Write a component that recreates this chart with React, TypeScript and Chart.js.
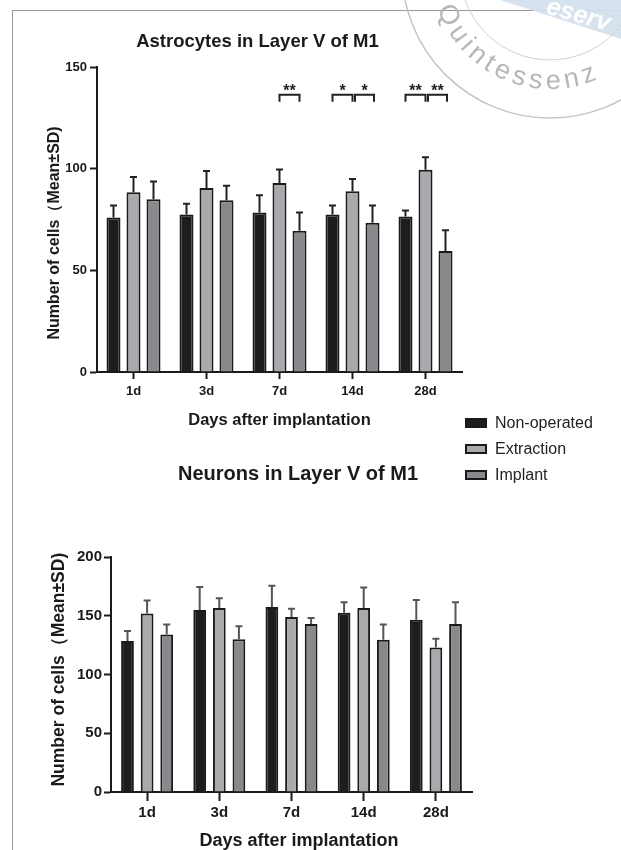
import React, { useEffect, useRef } from 'react';
import { Chart, registerables } from 'chart.js';

Chart.register(...registerables);

const FONT = "'Liberation Sans', Arial, Helvetica, sans-serif";

// ---------- data ----------
const DAYS = ['1d', '3d', '7d', '14d', '28d'];
const GROUP_LABELS = ['Non-operated', 'Extraction', 'Implant'];
const GROUP_COLORS = ['#1d1d1d', '#a9aaae', '#88898d'];

const ASTRO_NON_OPERATED = [76, 77.5, 78.5, 77.5, 76.5];
const ASTRO_NON_OPERATED_SD = [6, 5.3, 8.5, 4.4, 3];
const ASTRO_EXTRACTION = [88.5, 90.5, 93, 89, 99.5];
const ASTRO_EXTRACTION_SD = [7.5, 8.4, 6.7, 6, 6.2];
const ASTRO_IMPLANT = [85, 84.5, 69.5, 73.5, 59.5];
const ASTRO_IMPLANT_SD = [8.8, 7.2, 9, 8.4, 10.3];

const NEURON_NON_OPERATED = [128.5, 155, 157.5, 152.5, 146.5];
const NEURON_NON_OPERATED_SD = [8.5, 19.5, 18, 9, 17];
const NEURON_EXTRACTION = [152, 156.5, 149, 156.5, 123];
const NEURON_EXTRACTION_SD = [11, 8.5, 7, 17.5, 7.5];
const NEURON_IMPLANT = [134, 130, 143, 129.5, 143];
const NEURON_IMPLANT_SD = [8.5, 11, 5, 13, 18.5];

const ASTRO_Y_TICKS = [0, 50, 100, 150];
const NEURON_Y_TICKS = [0, 50, 100, 150, 200];

// significance brackets (astrocytes chart)
const SIG_DAYS = ['7d', '14d', '14d', '28d', '28d'];
const SIG_FROM = [1, 0, 1, 0, 1];
const SIG_TO = [2, 1, 2, 1, 2];
const SIG_LABELS = ['**', '*', '*', '**', '**'];
const SIG_LEVEL = 136.5;

const ASTRO_TITLE = 'Astrocytes in Layer V of M1';
const NEURON_TITLE = 'Neurons in Layer V of M1';
const Y_TITLE = 'Number of cells\uFF08Mean\u00B1SD)';
const X_TITLE = 'Days after implantation';

const AXIS_COLOR = '#1a1a1a';

function errorBarPlugin(sds: number[][], color: string, cap: number) {
  return {
    id: 'errorBars',
    afterDatasetsDraw(chart: any) {
      const { ctx } = chart;
      const y = chart.scales.y;
      ctx.save();
      ctx.strokeStyle = color;
      ctx.lineWidth = 2;
      chart.data.datasets.forEach((ds: any, i: number) => {
        const meta = chart.getDatasetMeta(i);
        meta.data.forEach((bar: any, j: number) => {
          const top = y.getPixelForValue(ds.data[j] + sds[i][j]);
          const x = bar.x;
          ctx.beginPath();
          ctx.moveTo(x, bar.y);
          ctx.lineTo(x, top);
          ctx.moveTo(x - cap / 2, top);
          ctx.lineTo(x + cap / 2, top);
          ctx.stroke();
        });
      });
      ctx.restore();
    },
  };
}

function significancePlugin() {
  return {
    id: 'significance',
    afterDatasetsDraw(chart: any) {
      const { ctx } = chart;
      const y = chart.scales.y;
      const yLine = y.getPixelForValue(SIG_LEVEL);
      ctx.save();
      ctx.strokeStyle = '#222';
      ctx.fillStyle = '#222';
      ctx.lineWidth = 2;
      ctx.font = `bold 16px ${FONT}`;
      ctx.textAlign = 'center';
      ctx.textBaseline = 'alphabetic';
      SIG_DAYS.forEach((day, k) => {
        const j = DAYS.indexOf(day);
        const xa = chart.getDatasetMeta(SIG_FROM[k]).data[j].x;
        const xb = chart.getDatasetMeta(SIG_TO[k]).data[j].x;
        const shared = SIG_DAYS.some((d, m) => m !== k && d === day && SIG_TO[m] === SIG_FROM[k]);
        const left = xa + (shared ? 2.5 : 0);
        const right = xb + (shared ? 1.5 : 0);
        ctx.beginPath();
        ctx.moveTo(left, yLine + 7);
        ctx.lineTo(left, yLine);
        ctx.lineTo(right, yLine);
        ctx.lineTo(right, yLine + 7);
        ctx.stroke();
        ctx.fillText(SIG_LABELS[k], (left + right) / 2, yLine + 1);
      });
      ctx.restore();
    },
  };
}

interface PanelOpts {
  title: string;
  titleSize: number;
  titlePad: { top: number; bottom: number };
  series: number[][];
  sds: number[][];
  yTicks: number[];
  yMax: number;
  yAxisWidth: number;
  xAxisHeight: number;
  rightSpace: number;
  tickSize: number;
  xTickLen: number;
  xTickPad: number;
  yTickPad: number;
  axisTitleSize: number;
  yTitle: string;
  yTitlePad: number;
  xTitle: string;
  xTitlePadBottom: number;
  catPct: number;
  barPct: number;
  errColor: string;
  extraPlugins: any[];
}

function makeChart(canvas: HTMLCanvasElement, o: PanelOpts) {
  return new Chart(canvas, {
    type: 'bar',
    data: {
      labels: DAYS,
      datasets: GROUP_LABELS.map((label, i) => ({
        label,
        data: o.series[i],
        backgroundColor: GROUP_COLORS[i],
        borderColor: AXIS_COLOR,
        borderWidth: 2,
        borderSkipped: 'start' as const,
        categoryPercentage: o.catPct,
        barPercentage: o.barPct,
        yAxisID: 'y',
      })),
    },
    options: {
      responsive: false,
      animation: false,
      events: [],
      layout: { padding: 0 },
      plugins: {
        legend: { display: false },
        tooltip: { enabled: false },
        title: {
          display: true,
          text: o.title,
          color: AXIS_COLOR,
          font: { family: FONT, size: o.titleSize, weight: 'bold' },
          padding: o.titlePad,
        },
      },
      scales: {
        x: {
          offset: true,
          grid: {
            display: true,
            offset: false,
            drawOnChartArea: false,
            drawTicks: true,
            tickLength: o.xTickLen,
            tickWidth: 2,
            tickColor: AXIS_COLOR,
          },
          border: { display: true, color: AXIS_COLOR, width: 2 },
          ticks: {
            color: AXIS_COLOR,
            padding: o.xTickPad,
            maxRotation: 0,
            font: { family: FONT, size: o.tickSize, weight: 'bold' },
          },
          title: {
            display: true,
            text: o.xTitle,
            color: AXIS_COLOR,
            font: { family: FONT, size: o.axisTitleSize + 0.5, weight: 'bold' },
            padding: { top: 0, bottom: o.xTitlePadBottom },
          },
          afterFit: (s: any) => {
            s.height = o.xAxisHeight;
          },
        },
        y: {
          position: 'left',
          min: 0,
          max: o.yMax,
          grid: {
            display: true,
            drawOnChartArea: false,
            drawTicks: true,
            tickLength: 7,
            tickWidth: 2,
            tickColor: AXIS_COLOR,
          },
          border: { display: true, color: AXIS_COLOR, width: 2 },
          ticks: {
            color: AXIS_COLOR,
            padding: o.yTickPad,
            font: { family: FONT, size: o.tickSize, weight: 'bold' },
          },
          afterBuildTicks: (s: any) => {
            s.ticks = o.yTicks.map((v) => ({ value: v }));
          },
          title: {
            display: true,
            text: o.yTitle,
            color: AXIS_COLOR,
            font: { family: FONT, size: o.axisTitleSize, weight: 'bold' },
            padding: { top: o.yTitlePad, bottom: 0 },
          },
          afterFit: (s: any) => {
            s.width = o.yAxisWidth;
          },
        },
        // empty right-hand spacer so the plot ends where the reference's does
        spacer: {
          type: 'linear',
          position: 'right',
          display: true,
          grid: { display: false, drawTicks: false },
          border: { display: false },
          ticks: { display: false },
          afterFit: (s: any) => {
            s.width = o.rightSpace;
          },
        },
      },
    },
    plugins: [errorBarPlugin(o.sds, o.errColor, 7), ...o.extraPlugins],
  } as any);
}

function Watermark() {
  const cx = 550;
  const cy = -30;
  const r = 119;
  const a0 = (161 * Math.PI) / 180;
  const a1 = (10 * Math.PI) / 180;
  const d = `M ${cx + r * Math.cos(a0)} ${cy + r * Math.sin(a0)} A ${r} ${r} 0 0 0 ${cx + r * Math.cos(a1)} ${cy + r * Math.sin(a1)}`;
  return (
    <svg
      width={621}
      height={160}
      style={{ position: 'absolute', left: 0, top: 0, pointerEvents: 'none' }}
    >
      <polygon points="500,0 621,0 621,39" fill="#d3e1ee" opacity={0.92} />
      <text
        transform="translate(545,13) rotate(16)"
        fill="#ffffff"
        fontSize={25}
        fontWeight="bold"
        fontStyle="italic"
        fontFamily={FONT}
      >
        eserv
      </text>
      <circle cx={cx} cy={cy} r={148} fill="none" stroke="#c4c4c4" strokeWidth={1.5} />
      <circle cx={cx} cy={cy} r={90} fill="none" stroke="#d0d0d0" strokeWidth={1} />
      <path id="wmArc" d={d} fill="none" />
      <text fill="#b7b7b7" fontSize={27} fontFamily={FONT}>
        <textPath href="#wmArc" textLength={196} lengthAdjust="spacing">
          Quintessenz
        </textPath>
      </text>
    </svg>
  );
}

export default function App() {
  const topRef = useRef<HTMLCanvasElement>(null);
  const botRef = useRef<HTMLCanvasElement>(null);

  useEffect(() => {
    const charts: Chart[] = [];
    if (topRef.current) {
      charts.push(
        makeChart(topRef.current, {
          title: ASTRO_TITLE,
          titleSize: 18.5,
          titlePad: { top: 31, bottom: 14 },
          series: [ASTRO_NON_OPERATED, ASTRO_EXTRACTION, ASTRO_IMPLANT],
          sds: [ASTRO_NON_OPERATED_SD, ASTRO_EXTRACTION_SD, ASTRO_IMPLANT_SD],
          yTicks: ASTRO_Y_TICKS,
          yMax: 150,
          yAxisWidth: 97,
          xAxisHeight: 68,
          rightSpace: 53,
          tickSize: 13,
          xTickLen: 7,
          xTickPad: 5,
          yTickPad: 3,
          axisTitleSize: 16,
          yTitle: Y_TITLE + '      ',
          yTitlePad: 45,
          xTitle: X_TITLE,
          xTitlePadBottom: 10,
          catPct: 0.822,
          barPct: 0.7,
          errColor: '#222',
          extraPlugins: [significancePlugin()],
        })
      );
    }
    if (botRef.current) {
      charts.push(
        makeChart(botRef.current, {
          title: NEURON_TITLE,
          titleSize: 20,
          titlePad: { top: 22, bottom: 71 },
          series: [NEURON_NON_OPERATED, NEURON_EXTRACTION, NEURON_IMPLANT],
          sds: [NEURON_NON_OPERATED_SD, NEURON_EXTRACTION_SD, NEURON_IMPLANT_SD],
          yTicks: NEURON_Y_TICKS,
          yMax: 200,
          yAxisWidth: 111,
          xAxisHeight: 58,
          rightSpace: 124,
          tickSize: 15,
          xTickLen: 9,
          xTickPad: 3,
          yTickPad: 2,
          axisTitleSize: 17.5,
          yTitle: '  ' + Y_TITLE,
          yTitlePad: 49,
          xTitle: '   ' + X_TITLE,
          xTitlePadBottom: -2,
          catPct: 0.815,
          barPct: 0.65,
          errColor: '#555',
          extraPlugins: [],
        })
      );
    }
    return () => charts.forEach((c) => c.destroy());
  }, []);

  return (
    <div
      style={{
        position: 'absolute',
        left: 0,
        top: 0,
        width: 621,
        height: 850,
        overflow: 'hidden',
        background: '#ffffff',
      }}
    >
      <div
        style={{
          position: 'absolute',
          left: 12,
          top: 10,
          width: 640,
          height: 900,
          borderLeft: '1.5px solid #9a9a9a',
          borderTop: '1.5px solid #9a9a9a',
        }}
      />
      <canvas
        ref={topRef}
        width={515}
        height={440}
        style={{ position: 'absolute', left: 0, top: 0, width: 515, height: 440 }}
      />
      <canvas
        ref={botRef}
        width={596}
        height={410}
        style={{ position: 'absolute', left: 0, top: 440, width: 596, height: 410 }}
      />
      <div
        style={{
          position: 'absolute',
          left: 465,
          top: 410,
          fontFamily: FONT,
          fontSize: 16,
          color: '#222',
          whiteSpace: 'nowrap',
        }}
      >
        {GROUP_LABELS.map((label, i) => (
          <div key={label} style={{ display: 'flex', alignItems: 'center', height: 26 }}>
            <span
              style={{
                display: 'inline-block',
                width: 22,
                height: 10,
                boxSizing: 'border-box',
                border: '2px solid #1a1a1a',
                background: GROUP_COLORS[i],
                marginRight: 8,
              }}
            />
            <span>{label}</span>
          </div>
        ))}
      </div>
      <Watermark />
    </div>
  );
}
